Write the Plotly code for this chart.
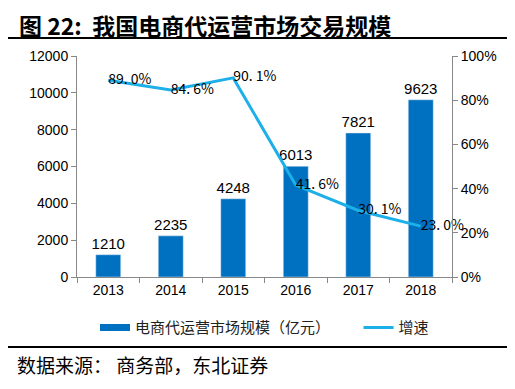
import plotly.graph_objects as go

years = ["2013", "2014", "2015", "2016", "2017", "2018"]
scale = [1210, 2235, 4248, 6013, 7821, 9623]
growth = [0.890, 0.846, 0.901, 0.416, 0.301, 0.230]
growth_labels = ["89. 0%", "84. 6%", "90. 1%", "41. 6%", "30. 1%", "23. 0%"]

BAR = "#0070C0"
LINE = "#1CAFE8"
TICKFONT = dict(family="Liberation Sans, Arial", size=14, color="#000000")
CJK = "Noto Sans CJK SC"

fig = go.Figure()
fig.add_trace(go.Bar(
    x=years, y=scale, name="电商代运营市场规模（亿元）", showlegend=False,
    marker=dict(color=BAR), width=0.4,
    text=[str(v) for v in scale], textposition="outside", constraintext="none",
    textfont=dict(family="Liberation Sans, Arial", size=15, color="#000000"),
    cliponaxis=False,
))
# legend proxy for bar series (wide swatch)
fig.add_trace(go.Scatter(
    x=[None], y=[None], name="电商代运营市场规模（亿元）" + "&nbsp;" * 7, mode="lines",
    line=dict(color=BAR, width=7),
))
fig.add_trace(go.Scatter(
    x=years, y=growth, name="增速", yaxis="y2", mode="lines+text",
    line=dict(color=LINE, width=3),
    text=growth_labels, textposition="middle right",
    textfont=dict(family=CJK, size=14, color="#000000"),
    cliponaxis=False,
))

fig.update_layout(
    width=507, height=381,
    margin=dict(l=69, r=63, t=48, b=112, autoexpand=False),
    paper_bgcolor="white", plot_bgcolor="white",
    showlegend=True,
    legend=dict(orientation="h", x=0.50, xanchor="center", y=-0.155, yanchor="top",
                font=dict(family=CJK, size=15, color="#222222"),
                itemwidth=30, tracegroupgap=0),
    xaxis=dict(showline=True, linecolor="#888888", linewidth=1,
               ticks="outside", tickson="boundaries", ticklen=5, tickcolor="#888888",
               tickfont=TICKFONT, showgrid=False),
    yaxis=dict(range=[0, 12000], dtick=2000, tickformat="d", showline=True, linecolor="#888888",
               ticks="outside", ticklen=5, tickcolor="#888888", showgrid=False,
               tickfont=TICKFONT, zeroline=False),
    yaxis2=dict(range=[0, 1], dtick=0.2, tickformat=".0%", overlaying="y", side="right",
                showline=True, linecolor="#888888", ticks="outside", ticklen=5,
                tickcolor="#888888", showgrid=False, tickfont=TICKFONT, zeroline=False),
    annotations=[
        dict(text="<b>图 22:  我国电商代运营市场交易规模</b>", xref="paper", yref="paper",
             x=-0.16, y=1.14, xanchor="left", yanchor="middle", showarrow=False,
             font=dict(family=CJK, size=23, color="#000000")),
        dict(text="数据来源： 商务部，东北证券", xref="paper", yref="paper",
             x=-0.165, y=-0.398, xanchor="left", yanchor="middle", showarrow=False,
             font=dict(family=CJK, size=19, color="#000000")),
    ],
    shapes=[
        dict(type="line", xref="paper", yref="paper", x0=-0.184, x1=1.163,
             y0=1.081, y1=1.081, line=dict(color="#000000", width=2)),
        dict(type="line", xref="paper", yref="paper", x0=-0.184, x1=1.163,
             y0=-0.317, y1=-0.317, line=dict(color="#000000", width=2)),
    ],
)

fig.write_html("out.html")
